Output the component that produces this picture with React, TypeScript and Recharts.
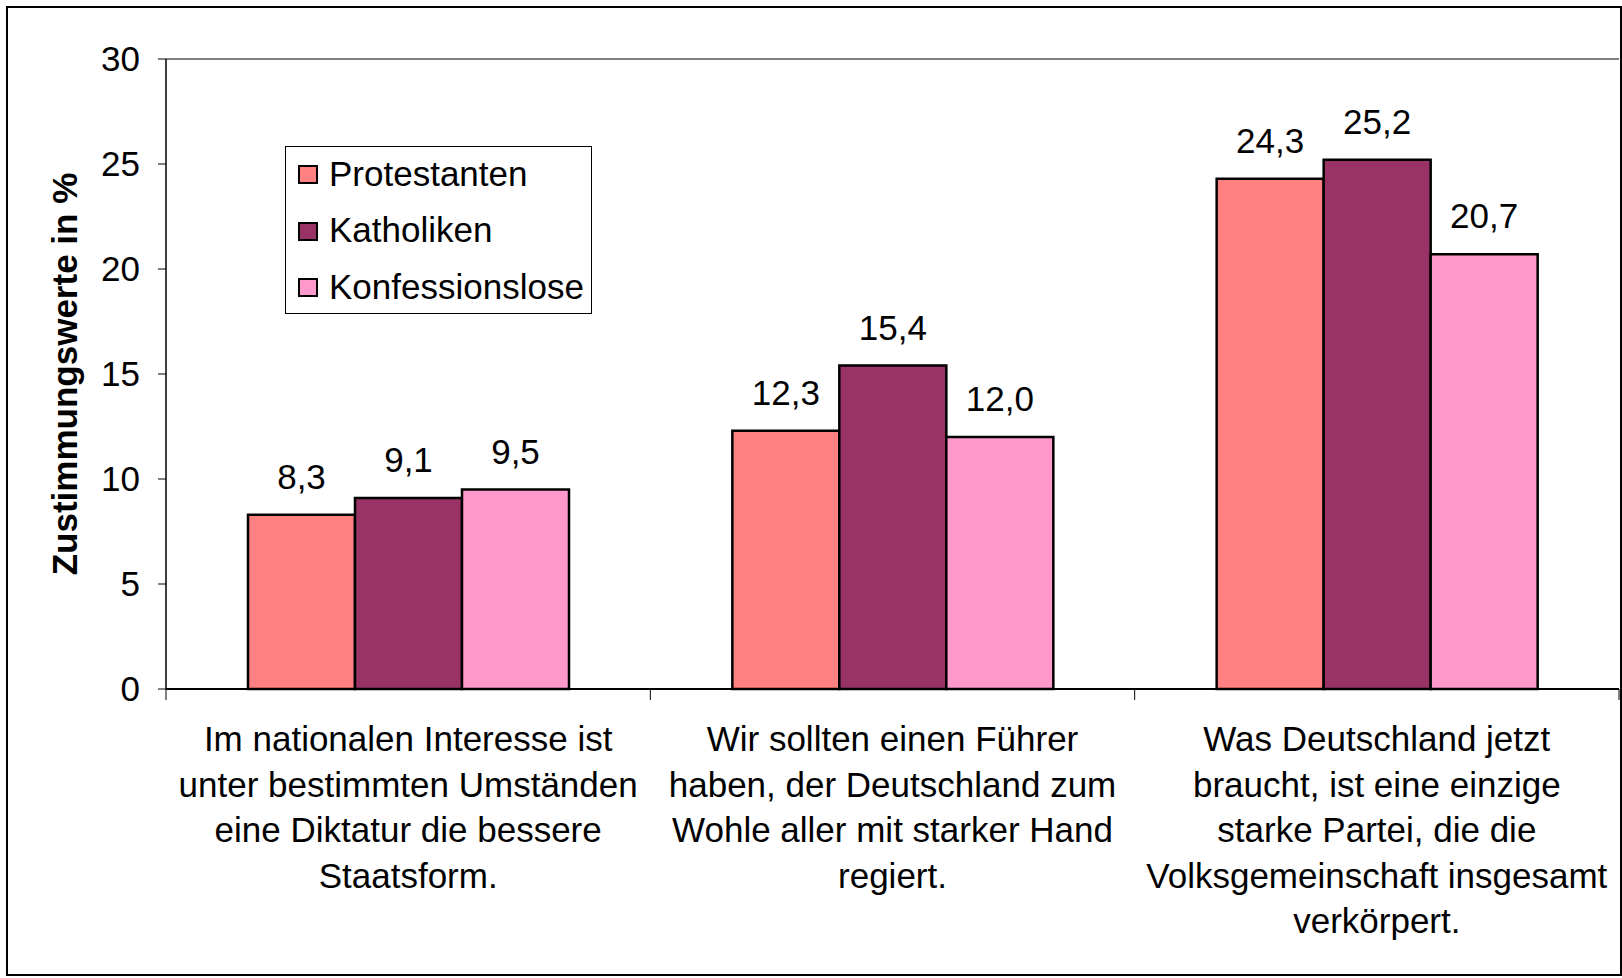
import {
  BarChart,
  Bar,
  XAxis,
  YAxis,
  Legend,
  LabelList,
  ReferenceLine,
} from "recharts";

const categoryLines = [
  ["Im nationalen Interesse ist", "unter bestimmten Umständen", "eine Diktatur die bessere", "Staatsform."],
  ["Wir sollten einen Führer", "haben, der Deutschland zum", "Wohle aller mit starker Hand", "regiert."],
  ["Was Deutschland jetzt", "braucht, ist eine einzige", "starke Partei, die die", "Volksgemeinschaft insgesamt", "verkörpert."],
];
const protestanten = [8.3, 12.3, 24.3];
const katholiken = [9.1, 15.4, 25.2];
const konfessionslose = [9.5, 12.0, 20.7];
const yTicks = [0, 5, 10, 15, 20, 25, 30];

const seriesNames = ["Protestanten", "Katholiken", "Konfessionslose"];
const seriesColors = ["#FF8080", "#993366", "#FF99CC"];

const FONT = "'Liberation Sans', Arial, sans-serif";
const FS = 35;
const W = 1622;
const H = 978;
const PLOT_LEFT = 166;
const PLOT_RIGHT = 1619;
const BAND = (PLOT_RIGHT - PLOT_LEFT) / categoryLines.length;

const data = categoryLines.map((lines, i) => ({
  name: lines.join(" "),
  p: protestanten[i],
  k: katholiken[i],
  o: konfessionslose[i],
}));

const fmt = (v: any) => Number(v).toFixed(1).replace(".", ",");

// category labels wrap over several lines, plus tick marks on the band edges
function CategoryTick(props: any) {
  const { x, y, index } = props;
  const lines = categoryLines[index] || [];
  const last = index === categoryLines.length - 1;
  return (
    <g>
      <line x1={x - BAND / 2} x2={x - BAND / 2} y1={y} y2={y + 11} stroke="#000" strokeWidth={1} />
      {last && (
        <line x1={x + BAND / 2} x2={x + BAND / 2} y1={y} y2={y + 11} stroke="#000" strokeWidth={1} />
      )}
      <text x={x} y={y + 62} textAnchor="middle" fontSize={FS} fontFamily={FONT} fill="#000">
        {lines.map((l, i) => (
          <tspan key={i} x={x} dy={i === 0 ? 0 : 45.5}>
            {l}
          </tspan>
        ))}
      </text>
    </g>
  );
}

function LegendBox() {
  return (
    <div
      style={{
        width: 307,
        height: 168,
        border: "1px solid #000",
        background: "#fff",
        boxSizing: "border-box",
        fontFamily: FONT,
        fontSize: FS,
        color: "#000",
      }}
    >
      <div style={{ marginTop: -2 }}>
        {seriesNames.map((n, i) => (
          <div key={n} style={{ height: 56.5, display: "flex", alignItems: "center" }}>
            <span
              style={{
                display: "inline-block",
                width: 20,
                height: 19,
                marginLeft: 12,
                marginRight: 11,
                marginTop: 3,
                background: seriesColors[i],
                border: "2px solid #000",
                boxSizing: "border-box",
              }}
            />
            <span style={{ lineHeight: 1 }}>{n}</span>
          </div>
        ))}
      </div>
    </div>
  );
}

export default function App() {
  return (
    <div style={{ position: "relative", width: W, height: H, background: "#fff" }}>
      <style>{`body{margin:0}`}</style>
      <div
        style={{
          position: "absolute",
          left: 6,
          top: 6,
          width: 1616,
          height: 970,
          border: "2px solid #000",
          boxSizing: "border-box",
          pointerEvents: "none",
        }}
      />
      <BarChart
        width={W}
        height={H}
        data={data}
        margin={{ top: 59, right: W - PLOT_RIGHT, left: 0, bottom: 9 }}
        barCategoryGap={82}
        barGap={0}
      >
        <XAxis
          dataKey="name"
          height={280}
          interval={0}
          tickSize={0}
          tickMargin={0}
          tick={<CategoryTick />}
          axisLine={{ stroke: "#000", strokeWidth: 2 }}
        />
        <YAxis
          width={PLOT_LEFT}
          domain={[0, 30]}
          ticks={yTicks}
          interval={0}
          tickSize={8}
          tickMargin={18}
          tick={{ fill: "#000", fontSize: FS, fontFamily: FONT }}
          tickLine={{ stroke: "#000" }}
          axisLine={{ stroke: "#000", strokeWidth: 1.5 }}
          label={{
            content: () => (
              <text
                x={64}
                y={374}
                transform="rotate(-90 64 374)"
                textAnchor="middle"
                dominantBaseline="central"
                fontSize={FS}
                fontWeight="bold"
                fontFamily={FONT}
                fill="#000"
              >
                Zustimmungswerte in %
              </text>
            ),
          }}
        />
        <YAxis
          yAxisId="right"
          orientation="right"
          width={0}
          domain={[0, 30]}
          tick={false}
          tickLine={false}
          axisLine={{ stroke: "#808080", strokeWidth: 2 }}
        />
        <ReferenceLine y={30} stroke="#808080" strokeWidth={2} />
        <Legend
          layout="horizontal"
          verticalAlign="middle"
          align="center"
          content={<LegendBox />}
          wrapperStyle={{ position: "absolute", left: 285, top: 146, width: 307, height: 168 }}
        />
        {["p", "k", "o"].map((key, i) => (
          <Bar
            key={key}
            dataKey={key}
            name={seriesNames[i]}
            fill={seriesColors[i]}
            stroke="#000"
            strokeWidth={2.5}
            isAnimationActive={false}
          >
            <LabelList
              dataKey={key}
              position="top"
              offset={26}
              formatter={fmt}
              fill="#000"
              fontSize={FS}
              fontFamily={FONT}
            />
          </Bar>
        ))}
      </BarChart>
    </div>
  );
}
